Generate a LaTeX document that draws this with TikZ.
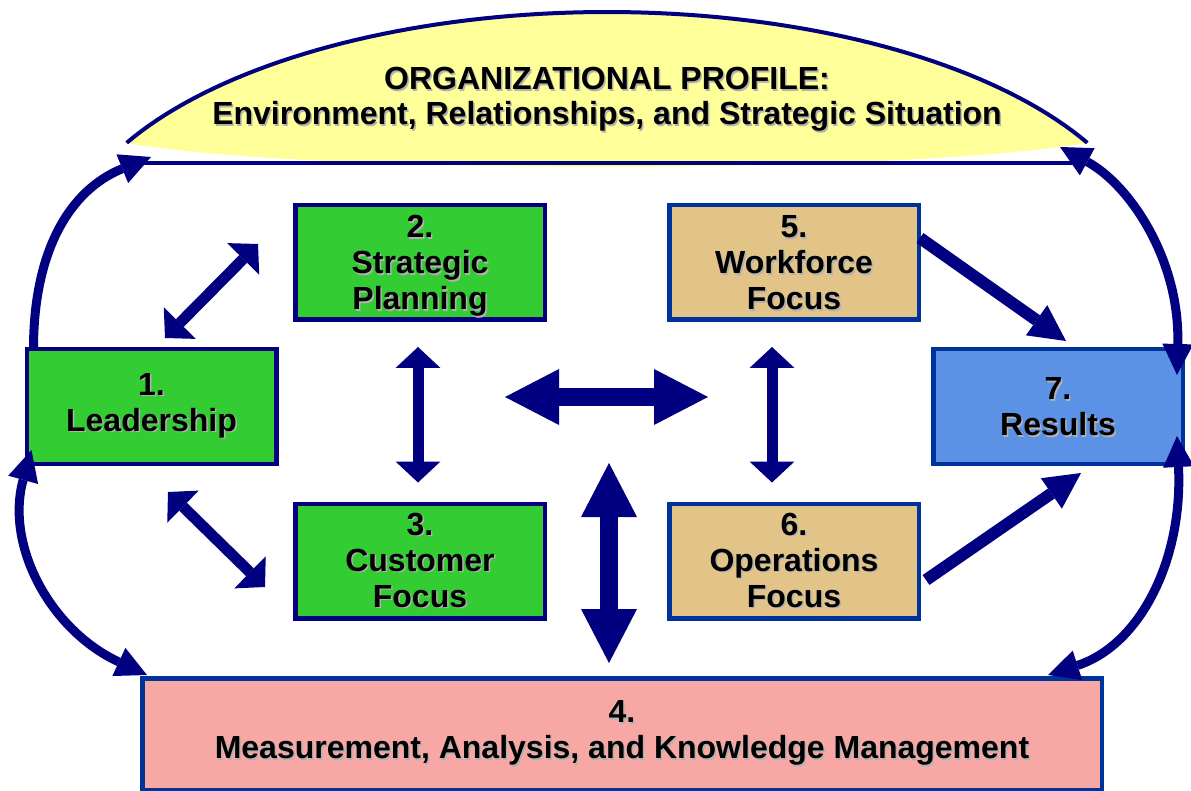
\documentclass[tikz,border=0pt]{standalone}
\usepackage{fontspec}
\setmainfont{Liberation Sans}
\usetikzlibrary{arrows.meta}
\definecolor{navy}{HTML}{000080}
\definecolor{boxblue}{HTML}{003399}
\definecolor{profyellow}{HTML}{FFFF99}
\definecolor{lgreen}{HTML}{33CC33}
\definecolor{tan}{HTML}{E2C488}
\definecolor{resblue}{HTML}{5B92E5}
\definecolor{measpink}{HTML}{F7A8A4}
% bold text with a soft grey drop shadow
\newcommand{\shd}[1]{\rlap{\kern1.5pt\raisebox{-1.5pt}{\textcolor{black!30}{#1}}}#1}
\tikzset{
    box/.style={draw=boxblue, line width=4.5pt, inner sep=0pt,
        minimum width=249.5pt, minimum height=114.5pt, align=center,
        font=\fontsize{32}{36}\selectfont\bfseries},
    greenbox/.style={box, draw=navy, fill=lgreen},
    tanbox/.style={box, fill=tan},
    twoway/.style={navy, line width=11pt,
        {Triangle[length=21pt,width=45pt,line width=0pt]}-{Triangle[length=21pt,width=45pt,line width=0pt]}},
    bigway/.style={navy, line width=18pt,
        {Triangle[length=54pt,width=56pt,line width=0pt]}-{Triangle[length=54pt,width=56pt,line width=0pt]}},
    oneway/.style={navy, line width=12pt, -{Triangle[length=36pt,width=37pt,line width=0pt]}},
    loopway/.style={navy, line width=9pt, -{Triangle[length=31pt,width=31pt,line width=0pt]}},
    loopboth/.style={loopway, {Triangle[length=31pt,width=31pt,line width=0pt]}-{Triangle[length=31pt,width=31pt,line width=0pt]}},
}

\begin{document}
\begin{tikzpicture}[x=1pt,y=-1pt]
\useasboundingbox (0,0) rectangle (1191,791);
% organizational profile dome
\fill[profyellow] plot[domain=151.8:28.2,samples=80] ({607+545*cos(\x)},{260-248*sin(\x)})
    .. controls (900,175) and (300,175) .. (126.7,142.8) -- cycle;
\draw[navy,line width=4pt] plot[domain=151.8:28.2,samples=80] ({607+545*cos(\x)},{260-248*sin(\x)});
\draw[navy,line width=4pt] (130,163) -- (1082,163);
\node[align=center,font=\fontsize{32}{35}\selectfont\bfseries] (prof) at (607,100)
    {\shd{ORGANIZATIONAL PROFILE:}\\\shd{Environment, Relationships, and Strategic Situation}};
\coordinate (profSW) at (151,157);
\coordinate (profSE) at (1060,147);

% the seven categories
\node[greenbox] (lead) at (151.5,406.5) {\shd{1.}\\\shd{Leadership}};
\node[greenbox,text depth=-3pt] (strat) at (420,262.5) {\shd{2.}\\\shd{Strategic}\\\shd{Planning}};
\node[greenbox] (cust) at (420,561) {\shd{3.}\\\shd{Customer}\\\shd{Focus}};
\node[tanbox,text depth=-4.5pt] (work) at (794,262.5) {\shd{5.}\\\shd{Workforce}\\\shd{Focus}};
\node[tanbox] (oper) at (794,561) {\shd{6.}\\\shd{Operations}\\\shd{Focus}};
\node[box,fill=resblue,text depth=-20pt] (res) at (1058,406.5) {\shd{7.}\\\shd{Results}};
\node[box,fill=measpink,minimum width=959.5pt,minimum height=111.5pt] (meas) at (622,734)
    {\shd{4.}\\\shd{Measurement, Analysis, and Knowledge Management}};

% links between categories
\draw[twoway] ([shift={(13.5,-9)}]lead.north) -- ([shift={(-35,-18.5)}]strat.west);
\draw[twoway] ([shift={(16.5,26)}]lead.south) -- ([shift={(-28,26)}]cust.west);
\draw[twoway,shorten <=25pt,shorten >=19pt] ([shift={(-2,0)}]strat.south) -- ([shift={(-2,0)}]cust.north);
\draw[twoway,shorten <=25pt,shorten >=19pt] ([shift={(-22,0)}]work.south) -- ([shift={(-22,0)}]oper.north);
\coordinate (hubL) at (505,397);
\coordinate (hubR) at (708,397);
\coordinate (hubB) at (609,463);
\draw[bigway] (hubL) -- (hubR);
\draw[bigway] (hubB) -- ([shift={(-13,-13)}]meas.north);
\draw[oneway] ([shift={(-1,-24.5)}]work.east) -- ([shift={(8,-6)}]res.north);
\draw[oneway] ([shift={(5,19)}]oper.east) -- ([shift={(23,7)}]res.south);

% outer loops
\draw[loopway] ([shift={(9,0)}]lead.north west) .. controls (34,250) and (70,190) .. (profSW);
\draw[loopboth] (profSE) .. controls (1130,185) and (1180,260) .. ([shift={(-8,28)}]res.north east);
\draw[loopboth] ([shift={(7,-16)}]lead.south west) .. controls (5,545) and (50,630) .. ([shift={(7,-1)}]meas.north west);
\draw[loopboth] ([shift={(-8,-30)}]res.south east) .. controls (1183,560) and (1140,645) .. ([shift={(-56,-1)}]meas.north east);
\end{tikzpicture}
\end{document}
